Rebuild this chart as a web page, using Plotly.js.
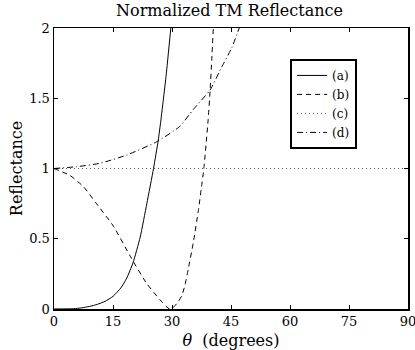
<!DOCTYPE html>
<html>
<head>
<meta charset="utf-8">
<script src="https://cdn.plot.ly/plotly-3.0.1.min.js"></script>
<style>html,body{margin:0;padding:0;background:#fff;}#plot{width:415px;height:350px;}</style>
</head>
<body>
<div id="plot"></div>
<script>
// Angle of incidence (degrees) and normalized TM reflectance
const thetaA = [0, 5, 7, 9, 11, 13, 15, 17, 18.5, 20.1, 21.9, 23.6, 25.3, 26.5, 27.2, 28.5, 29.7];
const reflA  = [0, 0.002, 0.008, 0.018, 0.033, 0.055, 0.09, 0.15, 0.22, 0.33, 0.51, 0.75, 1.0, 1.2, 1.35, 1.66, 2.0];

const thetaB = [0, 4.1, 7.5, 10.8, 15.1, 19.7, 23.6, 27, 28.6, 29.4, 30.2, 31.3, 32.5, 33.3, 34.1, 35.4, 36.7, 37.5, 38.1, 39.2, 39.7, 40.1, 40.5];
const reflB  = [1.0, 0.95, 0.87, 0.75, 0.59, 0.36, 0.18, 0.064, 0.016, 0, 0.01, 0.04, 0.095, 0.17, 0.28, 0.47, 0.70, 0.87, 1.0, 1.35, 1.56, 1.77, 2.0];

const thetaC = [0, 90];
const reflC  = [1, 1];

const thetaD = [0, 5.8, 11.7, 18.5, 26.1, 32, 35.4, 39.7, 42.6, 45.2, 47.1];
const reflD  = [1.0, 1.013, 1.037, 1.096, 1.19, 1.3, 1.42, 1.56, 1.72, 1.86, 2.0];

const seriesNames = ['(a)', '(b)', '(c)', '(d)'];
const xTicks = [0, 15, 30, 45, 60, 75, 90];
const yTicks = [0, 0.5, 1, 1.5, 2];
const yTickText = ['0', '0.5', '1', '1.5', '2'];

const FONT = 'DejaVu Serif, Liberation Serif, serif';

const traces = [
  {x: thetaA, y: reflA, name: seriesNames[0], mode: 'lines', line: {color: '#000', width: 1, dash: 'solid', shape: 'spline', smoothing: 0.5}},
  {x: thetaB, y: reflB, name: seriesNames[1], mode: 'lines', line: {color: '#000', width: 1, dash: '5px,4px', shape: 'spline', smoothing: 0.5}},
  {x: thetaC, y: reflC, name: seriesNames[2], mode: 'lines', line: {color: '#555', width: 1, dash: '1px,3px'}},
  {x: thetaD, y: reflD, name: seriesNames[3], mode: 'lines', line: {color: '#000', width: 1, dash: '6px,3px,1px,3px', shape: 'spline', smoothing: 0.5}}
];

const axisCommon = {
  showgrid: false, zeroline: false, showline: true, linecolor: '#000', linewidth: 1.5,
  mirror: 'ticks', ticks: 'inside', ticklen: 4, tickwidth: 1, tickcolor: '#000',
  tickfont: {family: FONT, size: 13, color: '#000'}, ticklabeloverflow: 'allow'
};

const layout = {
  width: 415, height: 350,
  margin: {l: 54, r: 7, t: 28, b: 41, pad: 0},
  paper_bgcolor: '#fff', plot_bgcolor: '#fff',
  font: {family: FONT, color: '#000'},
  title: {text: 'Normalized TM Reflectance', font: {family: FONT, size: 16, color: '#000'}, x: 0.553, xanchor: 'center', y: 0.97, yanchor: 'middle'},
  xaxis: Object.assign({}, axisCommon, {
    range: [0, 90], tickvals: xTicks, ticktext: xTicks.map(String),
    title: {text: '<i>θ</i>  (degrees)', font: {family: FONT, size: 16, color: '#000'}, standoff: 6}
  }),
  yaxis: Object.assign({}, axisCommon, {
    range: [0, 2], tickvals: yTicks, ticktext: yTickText,
    title: {text: 'Reflectance', font: {family: FONT, size: 16, color: '#000'}, standoff: 2}
  }),
  showlegend: true,
  legend: {
    x: 0.667, y: 0.89, xanchor: 'left', yanchor: 'top',
    bgcolor: '#fff', bordercolor: '#000', borderwidth: 2,
    font: {family: FONT, size: 12, color: '#000'},
    tracegroupgap: 0, itemwidth: 30
  }
};

Plotly.newPlot('plot', traces, layout, {displayModeBar: false, staticPlot: true});
</script>
</body>
</html>
